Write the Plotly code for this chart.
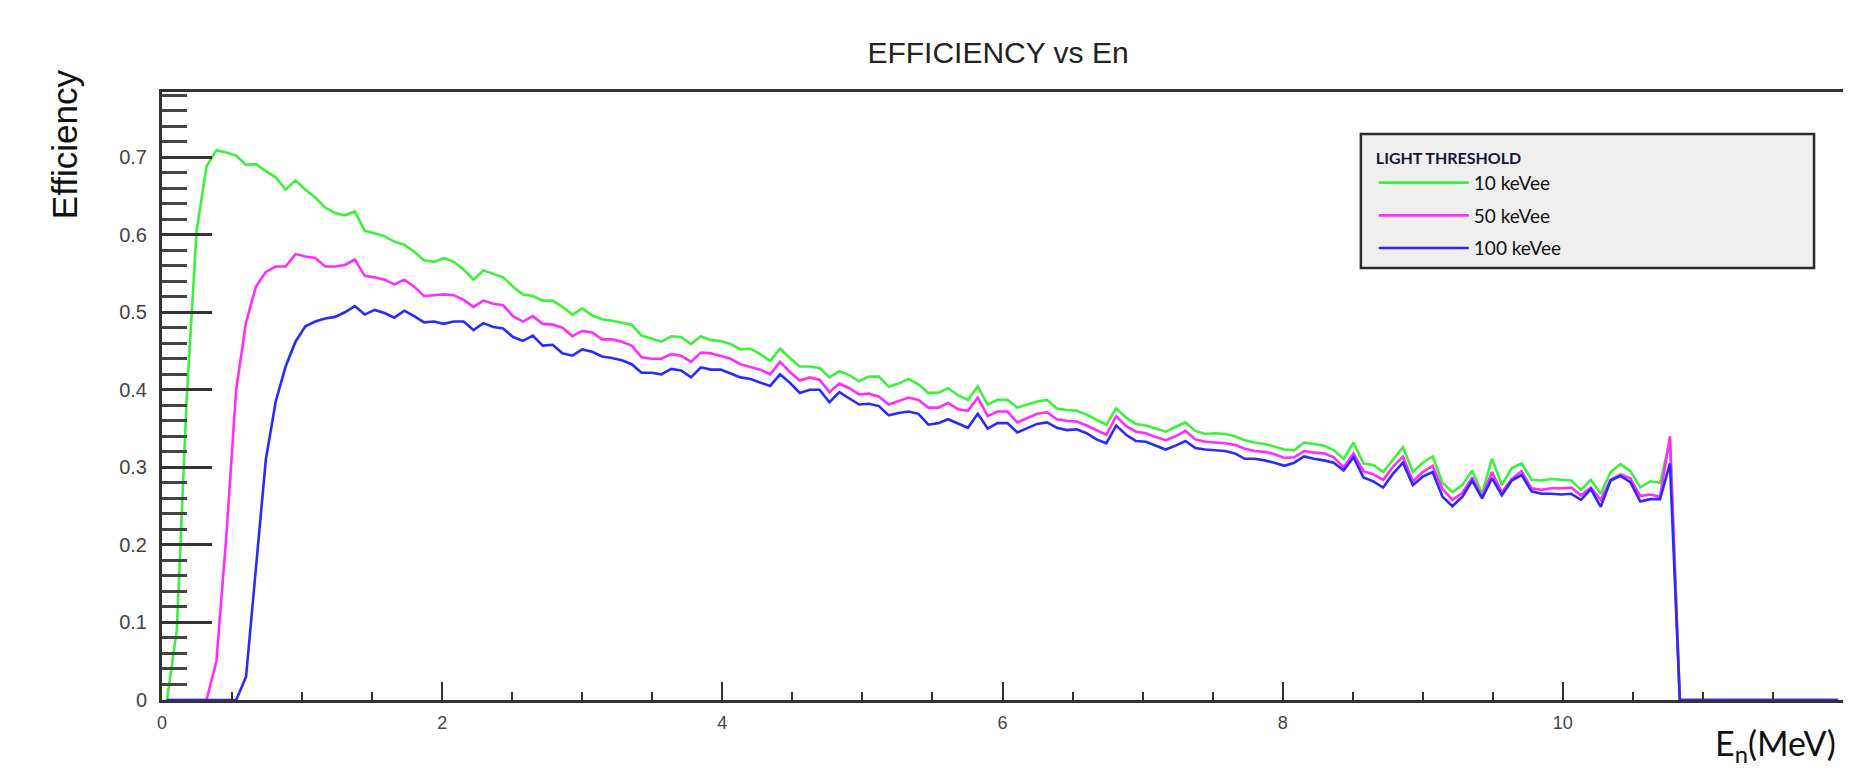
import plotly.graph_objects as go

# ---------------- data (histogram: 170 bins over 0-12 MeV) ----------------
N_BINS = 170
E_MAX = 12.0
BIN_WIDTH = E_MAX / N_BINS

eff_10keVee = [
    0, 0.09, 0.39, 0.605, 0.688, 0.709, 0.706, 0.702, 0.690, 0.691,
    0.682, 0.674, 0.658, 0.670, 0.658, 0.648, 0.635, 0.628, 0.625, 0.630,
    0.605, 0.602, 0.598, 0.591, 0.587, 0.578, 0.567, 0.565, 0.570,
    0.565, 0.555, 0.542, 0.554, 0.550, 0.545, 0.533, 0.523, 0.521, 0.515,
    0.515, 0.507, 0.497, 0.505, 0.496, 0.491, 0.489, 0.486, 0.484, 0.470,
    0.466, 0.462, 0.469, 0.468, 0.459, 0.469, 0.464, 0.463, 0.459,
    0.452, 0.453, 0.446, 0.437, 0.453, 0.441, 0.430, 0.430, 0.428, 0.416,
    0.424, 0.419, 0.411, 0.417, 0.417, 0.404, 0.408, 0.414, 0.407, 0.396,
    0.396, 0.402, 0.393, 0.387, 0.404, 0.381, 0.387, 0.387,
    0.377, 0.381, 0.385, 0.387, 0.376, 0.374, 0.373, 0.368, 0.362, 0.355,
    0.376, 0.364, 0.356, 0.354, 0.350, 0.346, 0.352, 0.358, 0.347, 0.343,
    0.344, 0.343, 0.340, 0.335, 0.332, 0.330, 0.327, 0.323,
    0.322, 0.332, 0.330, 0.328, 0.322, 0.311, 0.332, 0.305, 0.303, 0.294,
    0.310, 0.326, 0.294, 0.306, 0.314, 0.280, 0.268, 0.277, 0.296, 0.266,
    0.311, 0.277, 0.299, 0.305, 0.284, 0.283, 0.285, 0.284,
    0.283, 0.271, 0.284, 0.266, 0.294, 0.304, 0.295, 0.274, 0.282, 0.280, 0.335,
    0, 0, 0, 0, 0, 0, 0, 0, 0, 0, 0, 0, 0, 0, 0, 0, 0,
]

eff_50keVee = [
    0, 0, 0, 0, 0, 0.05, 0.21, 0.40, 0.487, 0.533,
    0.552, 0.559, 0.559, 0.575, 0.572, 0.570, 0.559, 0.559, 0.561, 0.568,
    0.547, 0.545, 0.542, 0.536, 0.542, 0.533, 0.521, 0.522, 0.523,
    0.522, 0.516, 0.507, 0.515, 0.511, 0.509, 0.495, 0.488, 0.495, 0.485,
    0.484, 0.480, 0.469, 0.476, 0.474, 0.465, 0.465, 0.462, 0.457, 0.442,
    0.440, 0.440, 0.446, 0.444, 0.436, 0.448, 0.447, 0.443, 0.440,
    0.433, 0.430, 0.426, 0.420, 0.436, 0.423, 0.412, 0.416, 0.413, 0.397,
    0.408, 0.402, 0.394, 0.395, 0.391, 0.381, 0.386, 0.390, 0.387, 0.377,
    0.377, 0.383, 0.375, 0.373, 0.390, 0.366, 0.372, 0.372,
    0.358, 0.364, 0.369, 0.371, 0.362, 0.360, 0.359, 0.354, 0.348, 0.342,
    0.366, 0.353, 0.346, 0.344, 0.339, 0.335, 0.340, 0.347, 0.336, 0.333,
    0.332, 0.331, 0.329, 0.324, 0.321, 0.320, 0.317, 0.312,
    0.313, 0.321, 0.319, 0.318, 0.313, 0.300, 0.318, 0.295, 0.291, 0.284,
    0.301, 0.314, 0.282, 0.294, 0.302, 0.272, 0.258, 0.267, 0.287, 0.262,
    0.294, 0.268, 0.285, 0.295, 0.273, 0.271, 0.273, 0.273,
    0.274, 0.264, 0.274, 0.258, 0.284, 0.291, 0.286, 0.263, 0.265, 0.262, 0.340,
    0, 0, 0, 0, 0, 0, 0, 0, 0, 0, 0, 0, 0, 0, 0, 0, 0,
]

eff_100keVee = [
    0, 0, 0, 0, 0, 0, 0, 0, 0.03, 0.17,
    0.31, 0.385, 0.43, 0.462, 0.482, 0.488, 0.492, 0.494, 0.500, 0.508,
    0.497, 0.503, 0.499, 0.493, 0.502, 0.495, 0.487, 0.488, 0.485,
    0.488, 0.488, 0.477, 0.486, 0.481, 0.479, 0.468, 0.463, 0.470, 0.457,
    0.458, 0.447, 0.444, 0.452, 0.449, 0.443, 0.441, 0.438, 0.433, 0.422,
    0.422, 0.420, 0.427, 0.425, 0.416, 0.429, 0.426, 0.426, 0.421,
    0.416, 0.414, 0.410, 0.405, 0.420, 0.409, 0.396, 0.400, 0.400, 0.384,
    0.397, 0.389, 0.381, 0.382, 0.379, 0.367, 0.370, 0.372, 0.369, 0.355,
    0.357, 0.362, 0.357, 0.351, 0.369, 0.350, 0.357, 0.357,
    0.345, 0.350, 0.356, 0.358, 0.351, 0.348, 0.349, 0.344, 0.336, 0.331,
    0.354, 0.342, 0.334, 0.333, 0.328, 0.323, 0.328, 0.334, 0.325, 0.323,
    0.322, 0.321, 0.318, 0.311, 0.311, 0.309, 0.306, 0.302,
    0.306, 0.314, 0.311, 0.309, 0.306, 0.296, 0.313, 0.287, 0.282, 0.274,
    0.292, 0.306, 0.277, 0.288, 0.294, 0.262, 0.250, 0.262, 0.283, 0.260,
    0.286, 0.264, 0.283, 0.290, 0.269, 0.266, 0.266, 0.265,
    0.266, 0.258, 0.272, 0.249, 0.283, 0.289, 0.281, 0.256, 0.259, 0.259, 0.305,
    0, 0, 0, 0, 0, 0, 0, 0, 0, 0, 0, 0, 0, 0, 0, 0, 0,
]

series_names = ["10 keVee", "50 keVee", "100 keVee"]
series_values = [eff_10keVee, eff_50keVee, eff_100keVee]
series_colors = ["#3cf03c", "#ff2cff", "#2a2aff"]

x_tick_values = [0, 2, 4, 6, 8, 10]
x_tick_labels = ["0", "2", "4", "6", "8", "10"]
y_tick_values = [0, 0.1, 0.2, 0.3, 0.4, 0.5, 0.6, 0.7]
y_tick_labels = ["0", "0.1", "0.2", "0.3", "0.4", "0.5", "0.6", "0.7"]

chart_title = "EFFICIENCY vs En"
y_title = "Efficiency"
x_title = "E<sub>n</sub>(MeV)"
legend_title = "LIGHT THRESHOLD"

# ---------------- geometry ----------------
# The page body has an 8 px default margin, so the figure is drawn 8 px
# smaller and every target position below is given in screen pixels.
OFF = 8
SCREEN_W, SCREEN_H = 1851, 768
W, H = SCREEN_W - OFF, SCREEN_H - OFF
PLOT_L, PLOT_R, PLOT_T, PLOT_B = 162, 1846, 92, 700   # screen pixels
ML = PLOT_L - OFF
MR = W - (PLOT_R - OFF)
MT = PLOT_T - OFF
MB = H - (PLOT_B - OFF)
PW = PLOT_R - PLOT_L
PH = PLOT_B - PLOT_T


def px(xs):
    return (xs - PLOT_L) / PW


def py(ys):
    return (PLOT_B - ys) / PH


fig = go.Figure()
for name, vals, col in zip(series_names, series_values, series_colors):
    fig.add_trace(go.Scatter(
        x0=BIN_WIDTH / 2, dx=BIN_WIDTH, y=vals,
        mode="lines", name=name, legendgroup=name,
        line=dict(color=col, width=2.6),
        hoverinfo="skip",
    ))

axis_color = "#333333"
shapes = [
    # legend box
    dict(type="rect", xref="paper", yref="paper", x0=px(1363), x1=px(1817), y0=py(268), y1=py(134),
         fillcolor="#efefef", line=dict(color="#2b2b2b", width=2.5), layer="above"),
]

annotations = [
    dict(text=y_title, xref="paper", yref="paper", x=px(64), y=py(144),
         textangle=-90, showarrow=False, xanchor="center", yanchor="middle",
         font=dict(family="Liberation Sans, Arial", size=35, color="#111111")),
    dict(text=x_title, xref="paper", yref="paper", x=px(1778), y=py(745),
         showarrow=False, xanchor="center", yanchor="middle",
         font=dict(family="Lato, Open Sans", size=34, color="#111111")),
]

fig.update_layout(
    width=W, height=H,
    margin=dict(l=ML, r=MR, t=MT, b=MB, pad=0),
    paper_bgcolor="white", plot_bgcolor="white",
    title=dict(text=chart_title, x=(998 - OFF) / W, xanchor="center",
               y=1 - (52 - OFF) / H, yanchor="middle",
               font=dict(family="Liberation Sans, Arial", size=30, color="#222222")),
    showlegend=True,
    legend=dict(
        title=dict(text="<b>" + legend_title + "</b>",
                   font=dict(family="Lato, Open Sans", size=16, color="#15153a")),
        font=dict(family="Lato, Open Sans", size=19, color="#111111"),
        x=px(1376), y=py(143), xanchor="left", yanchor="top",
        bgcolor="rgba(0,0,0,0)", borderwidth=0,
        itemwidth=90, tracegroupgap=5, itemclick=False,
    ),
    shapes=shapes,
    annotations=annotations,
    xaxis=dict(
        range=[0, E_MAX], showgrid=False, zeroline=False,
        showline=True, linecolor=axis_color, linewidth=3, mirror=True,
        tickmode="array", tickvals=x_tick_values, ticktext=x_tick_labels,
        ticks="inside", ticklen=18, tickwidth=2, tickcolor=axis_color,
        minor=dict(tick0=0, dtick=0.5, ticks="inside", ticklen=8, tickwidth=2, tickcolor=axis_color),
        tickfont=dict(family="Liberation Sans, Arial", size=18, color="#444444"),
        ticklabelstandoff=4,
    ),
    yaxis=dict(
        range=[0, 0.784], showgrid=False, zeroline=False,
        showline=True, linecolor=axis_color, linewidth=3, mirror=True,
        tickmode="array", tickvals=y_tick_values, ticktext=y_tick_labels,
        ticks="inside", ticklen=50, tickwidth=2.5, tickcolor=axis_color,
        minor=dict(tick0=0, dtick=0.02, ticks="inside", ticklen=25, tickwidth=2.5, tickcolor="#444444"),
        tickfont=dict(family="Liberation Sans, Arial", size=20, color="#444444"),
        ticklabelstandoff=8,
    ),
)

fig.write_html("out.html")
